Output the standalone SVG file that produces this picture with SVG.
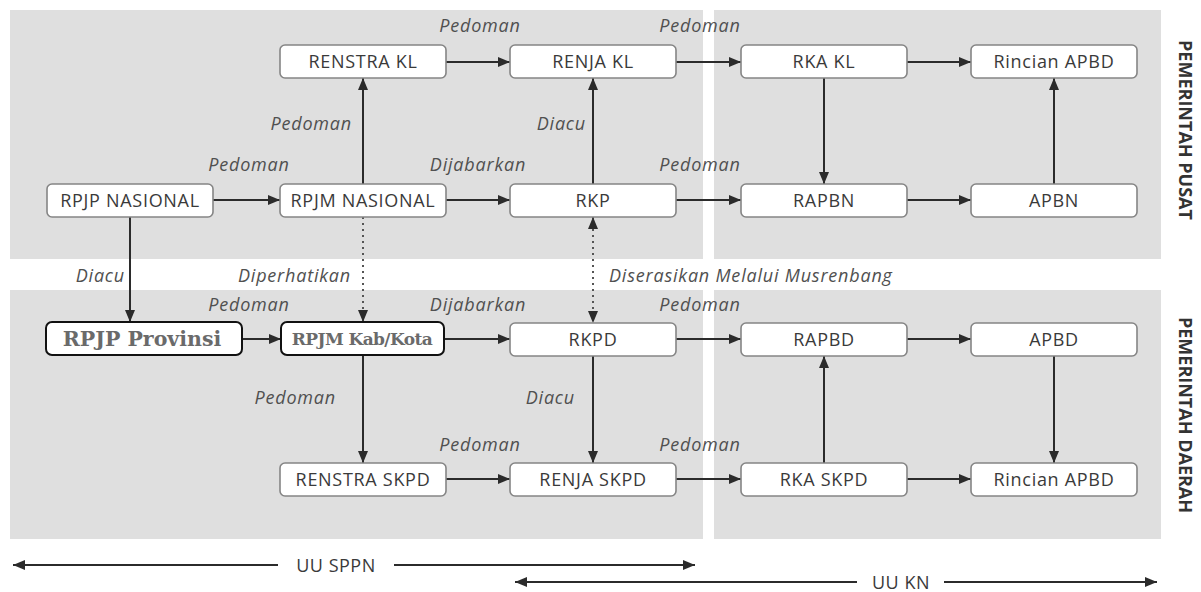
<svg xmlns="http://www.w3.org/2000/svg" width="1201" height="592" viewBox="0 0 1201 592">
<defs>
<marker id="ah" viewBox="0 0 12 10" refX="12" refY="5" markerWidth="12" markerHeight="10" markerUnits="userSpaceOnUse" orient="auto">
<path d="M0,0 L12,5 L0,10 z" fill="#2b2b2b"/>
</marker>
<marker id="ahs" viewBox="0 0 12 10" refX="0" refY="5" markerWidth="12" markerHeight="10" markerUnits="userSpaceOnUse" orient="auto">
<path d="M12,0 L0,5 L12,10 z" fill="#2b2b2b"/>
</marker>
</defs>
<style>
.panel{fill:#dfdfdf}
.box{fill:#ffffff;stroke:#858585;stroke-width:1.6}
.hbox{fill:#ffffff;stroke:#111111;stroke-width:2}
.nt{font-family:"Open Sans","Liberation Sans",sans-serif;font-size:18px;letter-spacing:0.7px;fill:#3a3a3a;text-anchor:middle}
.st{font-family:"DejaVu Serif","Liberation Serif",serif;font-weight:bold;fill:#6a6a6a;text-anchor:middle}
.lb{font-family:"Open Sans","Liberation Sans",sans-serif;font-size:18px;letter-spacing:0.8px;font-style:italic;fill:#505050}
.side{font-family:"Open Sans","Liberation Sans",sans-serif;font-size:18px;font-weight:bold;fill:#333333;text-anchor:middle}
.c{stroke:#2b2b2b;stroke-width:2;fill:none;marker-end:url(#ah)}
.d{stroke:#555555;stroke-width:2;fill:none;stroke-dasharray:2 4;marker-end:url(#ah)}
.uu{stroke:#2b2b2b;stroke-width:2;fill:none}
.ut{font-family:"Open Sans","Liberation Sans",sans-serif;font-size:18px;letter-spacing:0.5px;fill:#3a3a3a;text-anchor:middle}
</style>
<rect width="1201" height="592" fill="#ffffff"/>
<g id="panels">
<rect class="panel" x="10" y="10" width="693" height="249"/>
<rect class="panel" x="714" y="10" width="447" height="249"/>
<rect class="panel" x="10" y="290" width="693" height="249"/>
<rect class="panel" x="714" y="290" width="447" height="249"/>
</g>
<g id="side-labels">
<text class="side" transform="translate(1179,130) rotate(90)">PEMERINTAH PUSAT</text>
<text class="side" transform="translate(1179,415) rotate(90)">PEMERINTAH DAERAH</text>
</g>
<g id="connectors">
<line class="c" x1="446" y1="62" x2="510" y2="62"/>
<line class="c" x1="676" y1="62" x2="741" y2="62"/>
<line class="c" x1="907" y1="62" x2="971" y2="62"/>
<line class="c" x1="824" y1="78" x2="824" y2="184"/>
<line class="c" x1="1054" y1="184" x2="1054" y2="78"/>
<line class="c" x1="213" y1="200" x2="280" y2="200"/>
<line class="c" x1="446" y1="200" x2="510" y2="200"/>
<line class="c" x1="676" y1="200" x2="741" y2="200"/>
<line class="c" x1="907" y1="200" x2="971" y2="200"/>
<line class="c" x1="363" y1="184" x2="363" y2="78"/>
<line class="c" x1="593" y1="184" x2="593" y2="78"/>
<line class="c" x1="130" y1="217" x2="130" y2="322"/>
<line class="d" x1="363" y1="217" x2="363" y2="322"/>
<line class="d" x1="593" y1="217" x2="593" y2="323" marker-start="url(#ahs)"/>
<line class="c" x1="242" y1="339" x2="281" y2="339"/>
<line class="c" x1="444" y1="339" x2="510" y2="339"/>
<line class="c" x1="676" y1="339" x2="741" y2="339"/>
<line class="c" x1="907" y1="339" x2="971" y2="339"/>
<line class="c" x1="363" y1="355" x2="363" y2="463"/>
<line class="c" x1="593" y1="356" x2="593" y2="463"/>
<line class="c" x1="446" y1="479" x2="510" y2="479"/>
<line class="c" x1="676" y1="479" x2="741" y2="479"/>
<line class="c" x1="907" y1="479" x2="971" y2="479"/>
<line class="c" x1="824" y1="463" x2="824" y2="356"/>
<line class="c" x1="1054" y1="356" x2="1054" y2="463"/>
</g>
<g id="connector-labels">
<text class="lb" x="480" y="32" text-anchor="middle">Pedoman</text>
<text class="lb" x="700" y="32" text-anchor="middle">Pedoman</text>
<text class="lb" x="352" y="130" text-anchor="end">Pedoman</text>
<text class="lb" x="586" y="130" text-anchor="end">Diacu</text>
<text class="lb" x="249" y="171" text-anchor="middle">Pedoman</text>
<text class="lb" x="478" y="171" text-anchor="middle">Dijabarkan</text>
<text class="lb" x="700" y="171" text-anchor="middle">Pedoman</text>
<text class="lb" x="125" y="282" text-anchor="end">Diacu</text>
<text class="lb" x="351" y="282" text-anchor="end">Diperhatikan</text>
<text class="lb" x="609" y="282">Diserasikan Melalui Musrenbang</text>
<text class="lb" x="249" y="311" text-anchor="middle">Pedoman</text>
<text class="lb" x="478" y="311" text-anchor="middle">Dijabarkan</text>
<text class="lb" x="700" y="311" text-anchor="middle">Pedoman</text>
<text class="lb" x="336" y="404" text-anchor="end">Pedoman</text>
<text class="lb" x="575" y="404" text-anchor="end">Diacu</text>
<text class="lb" x="480" y="451" text-anchor="middle">Pedoman</text>
<text class="lb" x="700" y="451" text-anchor="middle">Pedoman</text>
</g>
<g id="n-renstra-kl"><rect class="box" x="280" y="45" width="166" height="33" rx="5"/><text class="nt" x="363" y="68">RENSTRA KL</text></g>
<g id="n-renja-kl"><rect class="box" x="510" y="45" width="166" height="33" rx="5"/><text class="nt" x="593" y="68">RENJA KL</text></g>
<g id="n-rka-kl"><rect class="box" x="741" y="45" width="166" height="33" rx="5"/><text class="nt" x="824" y="68">RKA KL</text></g>
<g id="n-rincian-apbd-1"><rect class="box" x="971" y="45" width="166" height="33" rx="5"/><text class="nt" x="1054" y="68">Rincian APBD</text></g>
<g id="n-rpjp-nasional"><rect class="box" x="47" y="184" width="166" height="33" rx="5"/><text class="nt" x="130" y="207">RPJP NASIONAL</text></g>
<g id="n-rpjm-nasional"><rect class="box" x="280" y="184" width="166" height="33" rx="5"/><text class="nt" x="363" y="207">RPJM NASIONAL</text></g>
<g id="n-rkp"><rect class="box" x="510" y="184" width="166" height="33" rx="5"/><text class="nt" x="593" y="207">RKP</text></g>
<g id="n-rapbn"><rect class="box" x="741" y="184" width="166" height="33" rx="5"/><text class="nt" x="824" y="207">RAPBN</text></g>
<g id="n-apbn"><rect class="box" x="971" y="184" width="166" height="33" rx="5"/><text class="nt" x="1054" y="207">APBN</text></g>
<g id="n-rpjp-provinsi"><rect class="hbox" x="46" y="322" width="196" height="33" rx="6"/><text class="st" x="142" y="346" font-size="20.5">RPJP Provinsi</text></g>
<g id="n-rpjm-kabkota"><rect class="hbox" x="281" y="322" width="163" height="33" rx="6"/><text class="st" x="362" y="345" font-size="17" letter-spacing="-0.6">RPJM Kab/Kota</text></g>
<g id="n-rkpd"><rect class="box" x="510" y="323" width="166" height="33" rx="5"/><text class="nt" x="593" y="346">RKPD</text></g>
<g id="n-rapbd"><rect class="box" x="741" y="323" width="166" height="33" rx="5"/><text class="nt" x="824" y="346">RAPBD</text></g>
<g id="n-apbd"><rect class="box" x="971" y="323" width="166" height="33" rx="5"/><text class="nt" x="1054" y="346">APBD</text></g>
<g id="n-renstra-skpd"><rect class="box" x="280" y="463" width="166" height="33" rx="5"/><text class="nt" x="363" y="486">RENSTRA SKPD</text></g>
<g id="n-renja-skpd"><rect class="box" x="510" y="463" width="166" height="33" rx="5"/><text class="nt" x="593" y="486">RENJA SKPD</text></g>
<g id="n-rka-skpd"><rect class="box" x="741" y="463" width="166" height="33" rx="5"/><text class="nt" x="824" y="486">RKA SKPD</text></g>
<g id="n-rincian-apbd-2"><rect class="box" x="971" y="463" width="166" height="33" rx="5"/><text class="nt" x="1054" y="486">Rincian APBD</text></g>
<g id="laws">
<line class="uu" x1="278" y1="565" x2="13" y2="565" marker-end="url(#ah)"/>
<text class="ut" x="336" y="572">UU SPPN</text>
<line class="uu" x1="394" y1="565" x2="695" y2="565" marker-end="url(#ah)"/>
<line class="uu" x1="857" y1="582" x2="515" y2="582" marker-end="url(#ah)"/>
<text class="ut" x="901" y="589">UU KN</text>
<line class="uu" x1="944" y1="582" x2="1157" y2="582" marker-end="url(#ah)"/>
</g>
</svg>
